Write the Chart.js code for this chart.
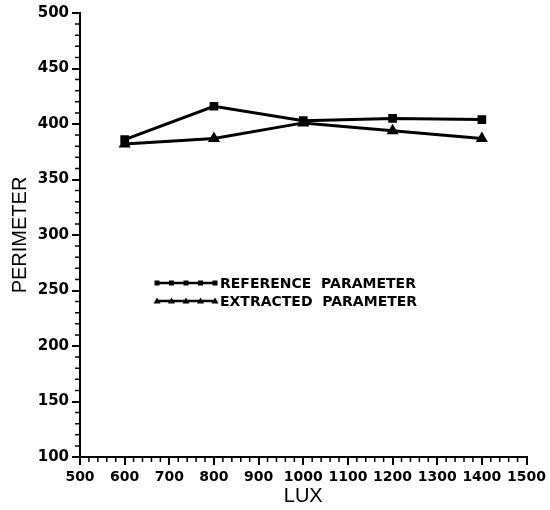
<!DOCTYPE html>
<html>
<head>
<meta charset="utf-8">
<script src="https://cdn.jsdelivr.net/npm/chart.js@4"></script>
<style>
  html, body { margin: 0; padding: 0; background: #fff; }
  #wrap { width: 550px; height: 510px; }
</style>
</head>
<body>
<div id="wrap"><canvas id="chart-1"></canvas></div>
<script>
const lux = [600, 800, 1000, 1200, 1400];
const referenceParam = [386, 416, 403, 405, 404];
const extractedParam = [382, 387, 401, 394, 387];
const seriesNames = ['REFERENCE  PARAMETER', 'EXTRACTED  PARAMETER'];

const tickFont = { family: 'DejaVu Sans', weight: 'bold', size: 15 };

// small minor ticks between the labelled ones
const minorTicks = {
    id: 'minorTicks',
    afterDraw(chart) {
        const c = chart.ctx, x = chart.scales.x, y = chart.scales.y;
        c.save();
        c.strokeStyle = '#000';
        c.lineWidth = 1.5;
        c.beginPath();
        for (let v = 100; v <= 500; v += 10) {
            if (v % 50 === 0) continue;
            const py = y.getPixelForValue(v);
            c.moveTo(x.left, py); c.lineTo(x.left - 5, py);
        }
        for (let v = 500; v <= 1500; v += 20) {
            if (v % 100 === 0) continue;
            const px = x.getPixelForValue(v);
            c.moveTo(px, y.bottom); c.lineTo(px, y.bottom + 5);
        }
        c.stroke();
        c.restore();
    }
};

// legend drawn inside the plot like the original
const innerLegend = {
    id: 'innerLegend',
    afterDraw(chart) {
        const c = chart.ctx;
        const x0 = 157, x1 = 215, rows = [283, 301];
        c.save();
        chart.data.datasets.forEach((ds, i) => {
            const yy = rows[i];
            c.strokeStyle = '#000';
            c.fillStyle = '#000';
            c.lineWidth = 2.5;
            c.beginPath(); c.moveTo(x0, yy); c.lineTo(x1, yy); c.stroke();
            for (let k = 0; k < 5; k++) {
                const mx = x0 + k * (x1 - x0) / 4;
                if (ds.pointStyle === 'rect') {
                    c.fillRect(mx - 2.5, yy - 2.5, 5, 5);
                } else {
                    c.beginPath();
                    c.moveTo(mx, yy - 3.5); c.lineTo(mx + 3.5, yy + 2.5); c.lineTo(mx - 3.5, yy + 2.5);
                    c.closePath(); c.fill();
                }
            }
            c.font = 'bold 14px "DejaVu Sans"';
            c.textBaseline = 'middle';
            c.fillText(ds.label, 220, yy + 1);
        });
        c.restore();
    }
};

const ctx = document.getElementById('chart-1').getContext('2d');
const myChart = new Chart(ctx, {
    type: 'line',
    data: {
        datasets: [{
            label: seriesNames[0],
            data: lux.map((v, i) => ({ x: v, y: referenceParam[i] })),
            borderColor: '#000',
            backgroundColor: '#000',
            borderWidth: 3,
            pointStyle: 'rect',
            pointRadius: 4,
            tension: 0
        }, {
            label: seriesNames[1],
            data: lux.map((v, i) => ({ x: v, y: extractedParam[i] })),
            borderColor: '#000',
            backgroundColor: '#000',
            borderWidth: 3,
            pointStyle: 'triangle',
            pointRadius: 4,
            tension: 0
        }]
    },
    options: {
        responsive: true,
        maintainAspectRatio: false,
        animation: false,
        layout: { padding: { left: 0, top: 13, right: 20, bottom: 0 } },
        plugins: { legend: { display: false }, tooltip: { enabled: false } },
        scales: {
            x: {
                type: 'linear',
                min: 500, max: 1500,
                ticks: { stepSize: 100, color: '#000', font: { family: 'DejaVu Sans', weight: 'bold', size: 14 }, padding: 4, maxRotation: 0, autoSkip: false,
                         callback: v => String(v) },
                grid: { drawOnChartArea: false, color: '#000', lineWidth: 2, tickLength: 8 },
                border: { color: '#000', width: 2 },
                title: { display: true, text: 'LUX', color: '#000', font: { family: 'Liberation Sans', size: 20 }, padding: { top: 0, bottom: 2 } },
                afterFit(s) { s.height = 53; }
            },
            y: {
                min: 100, max: 500,
                ticks: { stepSize: 50, color: '#000', font: tickFont, padding: 3, callback: v => String(v) },
                grid: { drawOnChartArea: false, color: '#000', lineWidth: 2, tickLength: 8 },
                border: { color: '#000', width: 2 },
                title: { display: true, text: 'PERIMETER', color: '#000', font: { family: 'Liberation Sans', size: 20 }, padding: { top: 8, bottom: 0 } },
                afterFit(s) { s.width = 80; }
            }
        }
    },
    plugins: [minorTicks, innerLegend]
});
</script>
</body>
</html>
